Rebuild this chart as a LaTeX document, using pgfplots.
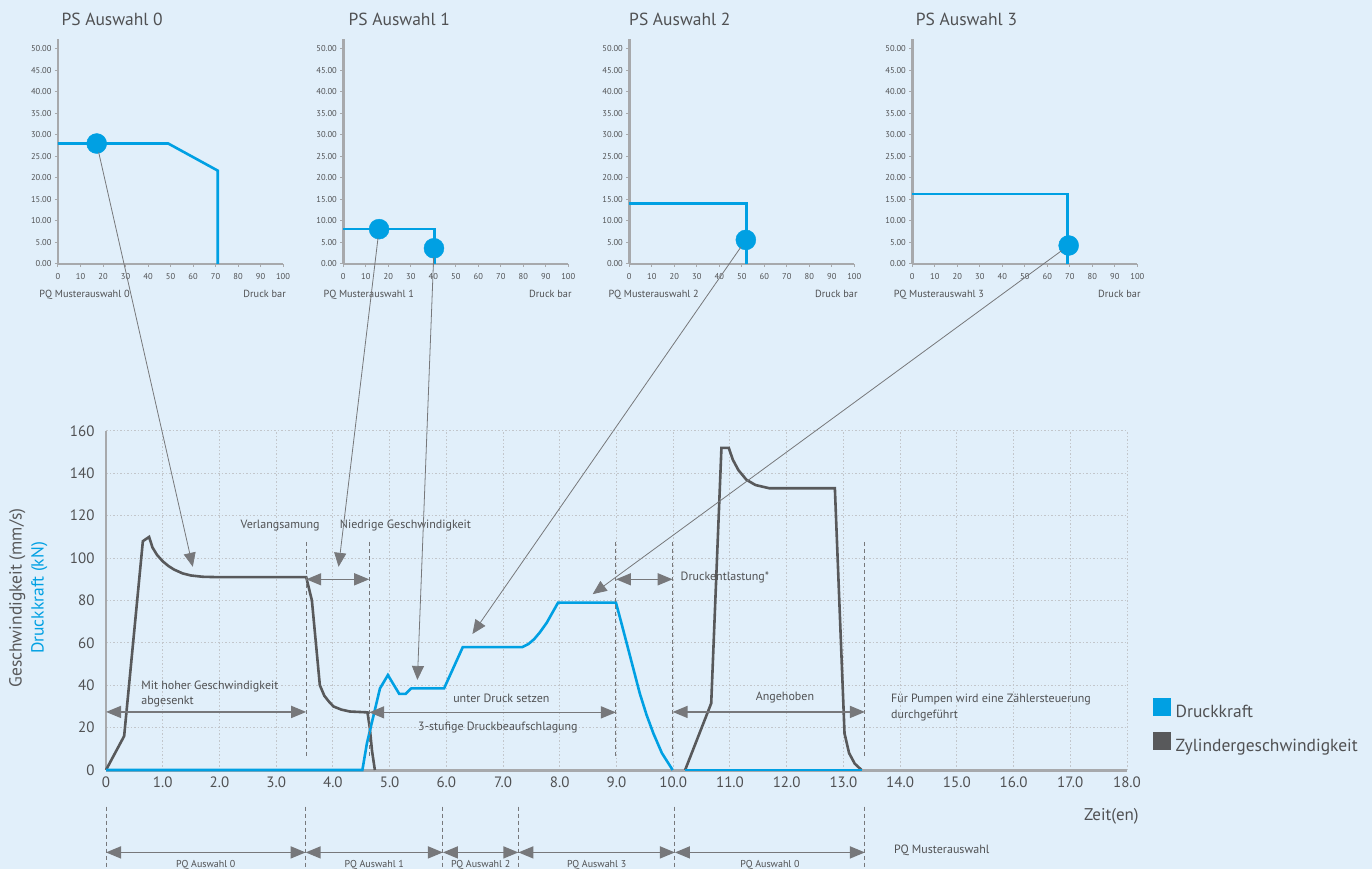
\documentclass[border=0pt]{standalone}
\usepackage{pgfplots}
\pgfplotsset{compat=1.18}
\usepackage{fontspec}
\setmainfont{PT Sans}
\usetikzlibrary{arrows.meta}

\definecolor{cbg}{HTML}{E1EFFA}
\definecolor{cblue}{HTML}{00A0E3}
\definecolor{cdark}{HTML}{58595B}
\definecolor{caxis}{HTML}{A7A9AC}
\definecolor{carrow}{HTML}{77787B}
\definecolor{ctext}{HTML}{505153}
\definecolor{cgrid}{HTML}{C2C6CB}

\newcommand\fs[2]{\fontsize{#1}{#2}\selectfont}

\pgfplotsset{
  psaxis/.style={
    scale only axis, width=225pt, height=225pt,
    xmin=0, xmax=100, ymin=0, ymax=52.3,
    axis lines=left,
    axis line style={-, draw=caxis, line width=2.5pt},
    xtick={0,10,...,100}, ytick={0,5,...,50},
    xticklabels={0,10,20,30,40,50,60,70,80,90,100},
    yticklabels={0.00,5.00,10.00,15.00,20.00,25.00,30.00,35.00,40.00,45.00,50.00},
    tick align=outside, major tick length=3pt,
    tick style={draw=caxis, line width=1pt},
    ticklabel style={font=\fs{8.5}{10}, text=ctext},
    xticklabel style={yshift=-2.5pt},
    clip=false,
  },
  psline/.style={cblue, line width=2.6pt},
  psdot/.style={cblue, only marks, mark=*, mark size=10pt, mark options={fill=cblue, draw=cblue}},
}
\tikzset{
  dbl/.style={carrow, line width=1.5pt,
    {Triangle[length=15pt,width=12pt]}-{Triangle[length=15pt,width=12pt]}},
  dsh/.style={carrow, line width=1pt, dash pattern=on 4pt off 3pt},
  diag/.style={carrow, line width=0.8pt, -{Triangle[length=14pt,width=12pt]}},
  note/.style={font=\fs{12}{14}, text=ctext},
  small/.style={font=\fs{10.3}{12}, text=ctext},
  title/.style={anchor=base west, font=\fs{17.5}{20}, text=ctext},
}

\begin{document}
\begin{tikzpicture}
\useasboundingbox (0,0) rectangle (1372pt,869pt);
\clip (0,0) rectangle (1372pt,869pt);
\fill[cbg] (0,0) rectangle (1372pt,869pt);

% PS Auswahl 0
\begin{axis}[psaxis, at={(58pt,605pt)}, anchor=south west]
  \addplot[psline] coordinates {(0,28) (49,28) (71,21.7) (71,0)};
  \addplot[psdot] coordinates {(17.2,28)};
  \coordinate (p0) at (axis cs:17.2,28);
  \node[title] at (axis description cs:0,1.058) {PS Auswahl 0};
  \node[small, anchor=base west] at (axis description cs:-0.098,-0.147) {PQ Musterauswahl 0};
  \node[small, anchor=base east] at (axis description cs:1.028,-0.147) {Druck bar};
\end{axis}

% PS Auswahl 1
\begin{axis}[psaxis, at={(343.3pt,605pt)}, anchor=south west]
  \addplot[psline] coordinates {(0,8.1) (40.4,8.1) (40.4,0)};
  \addplot[psdot] coordinates {(15.9,8.1) (40.3,3.65)};
  \coordinate (p1) at (axis cs:15.9,8.1);
  \coordinate (p2) at (axis cs:40.3,3.65);
  \node[title] at (axis description cs:0.008,1.058) {PS Auswahl 1};
  \node[small, anchor=base west] at (axis description cs:-0.103,-0.147) {PQ Musterauswahl 1};
  \node[small, anchor=base east] at (axis description cs:1.030,-0.147) {Druck bar};
\end{axis}

% PS Auswahl 2
\begin{axis}[psaxis, at={(629.3pt,605pt)}, anchor=south west]
  \addplot[psline] coordinates {(0,14.1) (52,14.1) (52,0)};
  \addplot[psdot] coordinates {(51.8,5.6)};
  \coordinate (p3) at (axis cs:51.8,5.6);
  \node[title] at (axis description cs:-0.016,1.058) {PS Auswahl 2};
  \node[small, anchor=base west] at (axis description cs:-0.108,-0.147) {PQ Musterauswahl 2};
  \node[small, anchor=base east] at (axis description cs:1.030,-0.147) {Druck bar};
\end{axis}

% PS Auswahl 3
\begin{axis}[psaxis, at={(912.3pt,605pt)}, anchor=south west]
  \addplot[psline] coordinates {(0,16.3) (69.1,16.3) (69.1,0)};
  \addplot[psdot] coordinates {(69.5,4.3)};
  \coordinate (p4) at (axis cs:69.5,4.3);
  \node[title] at (axis description cs:0,1.058) {PS Auswahl 3};
  \node[small, anchor=base west] at (axis description cs:-0.098,-0.147) {PQ Musterauswahl 3};
  \node[small, anchor=base east] at (axis description cs:1.030,-0.147) {Druck bar};
\end{axis}

% main chart
\begin{axis}[
  at={(106pt,99pt)}, anchor=south west, scale only axis,
  width=1021pt, height=339pt,
  xmin=0, xmax=18, ymin=0, ymax=160,
  axis lines=left,
  axis line style={-, draw=caxis},
  x axis line style={line width=3pt},
  y axis line style={line width=2pt},
  xtick={0,1,...,18}, ytick={0,20,...,160},
  xticklabels={0,1.0,2.0,3.0,4.0,5.0,6.0,7.0,8.0,9.0,10.0,11.0,12.0,13.0,14.0,15.0,16.0,17.0,18.0},
  yticklabels={0,20,40,60,80,100,120,140,160},
  major tick length=0pt,
  grid=major,
  major grid style={draw=cgrid, line width=1pt, dash pattern=on 1.5pt off 2pt},
  ticklabel style={font=\fs{15}{18}, text=ctext},
  xticklabel style={yshift=-3pt},
  yticklabel style={xshift=-8pt},
  clip=false,
  legend style={at={(axis description cs:1.0255,0.2124)}, anchor=north west,
    draw=none, fill=none, inner sep=0pt, row sep=10pt,
    font=\fs{17.5}{20}, text=ctext,
    nodes={inner sep=1pt, text height=12pt, text depth=4pt},
    /tikz/every odd column/.append style={column sep=4pt}},
  legend cell align=left,
  legend image code/.code={\fill[#1] (0pt,-2pt) rectangle (17pt,15pt);},
]
  \addlegendimage{cblue}
  \addlegendentry{Druckkraft}
  \addlegendimage{cdark}
  \addlegendentry{Zylindergeschwindigkeit}

  % Zylindergeschwindigkeit
  \addplot[cdark, line width=2.6pt, forget plot] coordinates {
    (0,0) (0.32,16) (0.65,108) (0.76,110) (0.82,105) (0.9,101.5) (1.0,98.5)
    (1.1,96.3) (1.2,94.6) (1.35,92.8) (1.5,91.8) (1.7,91.2) (2.0,91) (3.53,91)
    (3.63,80) (3.77,40) (3.85,35) (3.93,32.3) (4.01,30) (4.15,28.5) (4.3,27.6)
    (4.61,27.2) (4.65,20) (4.69,9) (4.74,0)
  };
  \addplot[cdark, line width=2.6pt, forget plot] coordinates {
    (10.21,0) (10.67,31.5) (10.85,152) (10.98,152) (11.05,146.5) (11.15,141.5)
    (11.29,137) (11.45,134.5) (11.69,133) (12.85,133) (13.02,17.3) (13.1,8)
    (13.2,3) (13.32,0)
  };
  % Druckkraft
  \addplot[cblue, line width=2.6pt, forget plot] coordinates {
    (0,0) (4.52,0) (4.6,12.6) (4.83,38.5) (4.97,44.8) (5.17,35.9) (5.28,35.9)
    (5.38,38.5) (5.96,38.5) (6.29,58) (7.34,58) (7.45,59.5) (7.55,61.8)
    (7.65,65) (7.77,69.5) (7.97,79) (8.99,79) (9.08,70) (9.18,59.8) (9.30,47.5)
    (9.41,36.2) (9.53,26) (9.65,17.3) (9.80,8) (9.99,0)
  };
  \addplot[cblue, line width=2.6pt, forget plot] coordinates {(10.21,0) (13.32,0)};

  % arrow targets
  \coordinate (h0) at (axis cs:1.53,95.9);
  \coordinate (h1) at (axis cs:4.10,95.9);
  \coordinate (h2) at (axis cs:5.49,42.5);
  \coordinate (h3) at (axis cs:6.46,64.2);
  \coordinate (h4) at (axis cs:8.58,83);

  % phase markers
  \pgfplotsinvokeforeach{3.53,4.64,8.99,9.99,13.38}{
    \draw[dsh] (axis cs:#1,107.7) -- (axis cs:#1,6.3);
  }
  \draw[dbl] (axis cs:0,27.4) -- (axis cs:3.53,27.4);
  \draw[dbl] (axis cs:3.53,90) -- (axis cs:4.64,90);
  \draw[dbl] (axis cs:4.64,27.2) -- (axis cs:8.99,27.2);
  \draw[dbl] (axis cs:8.99,90) -- (axis cs:9.99,90);
  \draw[dbl] (axis cs:9.99,27.4) -- (axis cs:13.38,27.4);

  \node[note, anchor=west] at (axis cs:0.56,39.6) {Mit hoher Geschwindigkeit};
  \node[note, anchor=west] at (axis cs:0.56,32.1) {abgesenkt};
  \node[note] at (axis cs:3.07,115.2) {Verlangsamung};
  \node[note] at (axis cs:5.28,115.2) {Niedrige Geschwindigkeit};
  \node[note] at (axis cs:6.97,33.8) {unter Druck setzen};
  \node[note] at (axis cs:6.91,20.1) {3-stufige Druckbeaufschlagung};
  \node[note, anchor=west] at (axis cs:10.07,90.7) {Druckentlastung*};
  \node[note] at (axis cs:11.97,34.1) {Angehoben};
  \node[note, anchor=west] at (axis cs:13.78,33.4) {Für Pumpen wird eine Zählersteuerung};
  \node[note, anchor=west] at (axis cs:13.78,25.8) {durchgeführt};

  % axis titles
  \node[rotate=90, font=\fs{17.5}{20}, text=cdark] at (axis cs:-1.564,81.2) {Geschwindigkeit (mm/s)};
  \node[rotate=90, font=\fs{17.5}{20}, text=cblue] at (axis cs:-1.176,81.2) {Druckkraft (kN)};
  \node[anchor=west, font=\fs{17}{20}, text=ctext] at (axis cs:17.18,-21.7) {Zeit(en)};

  % PQ selection below the axis
  \pgfplotsinvokeforeach{0,3.52,5.94,7.27,10.03,13.38}{
    \draw[dsh] (axis cs:#1,-17.3) -- (axis cs:#1,-47);
  }
  \draw[dbl] (axis cs:0,-38.9) -- (axis cs:3.52,-38.9);
  \draw[dbl] (axis cs:3.52,-38.9) -- (axis cs:5.94,-38.9);
  \draw[dbl] (axis cs:5.94,-38.9) -- (axis cs:7.27,-38.9);
  \draw[dbl] (axis cs:7.27,-38.9) -- (axis cs:10.03,-38.9);
  \draw[dbl] (axis cs:10.03,-38.9) -- (axis cs:13.38,-38.9);
  \node[font=\fs{10}{12}, text=ctext] at (axis cs:1.76,-44.8) {PQ Auswahl 0};
  \node[font=\fs{10}{12}, text=ctext] at (axis cs:4.73,-44.8) {PQ Auswahl 1};
  \node[font=\fs{10}{12}, text=ctext] at (axis cs:6.605,-44.8) {PQ Auswahl 2};
  \node[font=\fs{10}{12}, text=ctext] at (axis cs:8.65,-44.8) {PQ Auswahl 3};
  \node[font=\fs{10}{12}, text=ctext] at (axis cs:11.705,-44.8) {PQ Auswahl 0};
  \node[font=\fs{12}{14}, text=ctext, anchor=west] at (axis cs:13.83,-38.1) {PQ Musterauswahl};
\end{axis}

% links from the PQ diagrams to the time chart
\draw[diag, shorten <=9pt] (p0) -- (h0);
\draw[diag, shorten <=9pt] (p1) -- (h1);
\draw[diag, shorten <=9pt] (p2) -- (h2);
\draw[diag, shorten <=9pt] (p3) -- (h3);
\draw[diag, shorten <=9pt] (p4) -- (h4);
\end{tikzpicture}
\end{document}
